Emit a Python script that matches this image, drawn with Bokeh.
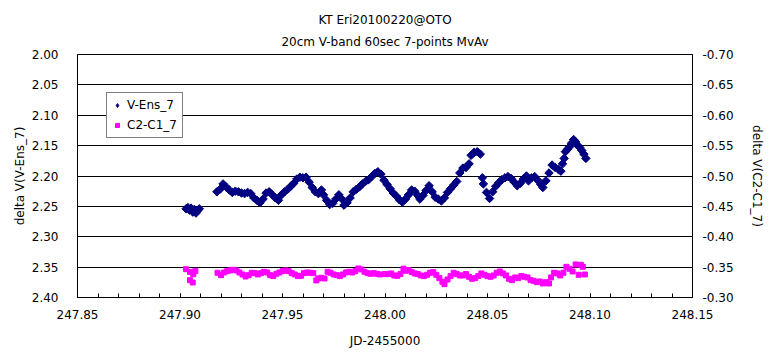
import math
from bokeh.plotting import figure
from bokeh.models import (Range1d, LinearAxis, FixedTicker, NumeralTickFormatter, Title,
                          ColumnDataSource, CDSView, IndexFilter, Legend, LegendItem)
from bokeh.embed import file_html
from bokeh.resources import INLINE

title_line1 = "KT Eri20100220@OTO"
title_line2 = "20cm V-band 60sec 7-points MvAv"
x_label = "JD-2455000"
left_label = "delta V(V-Ens_7)"
right_label = "delta V(C2-C1_7)"
series_names = ["V-Ens_7", "C2-C1_7"]

x_ticks = [247.85, 247.90, 247.95, 248.00, 248.05, 248.10, 248.15]
left_ticks = [2.00, 2.05, 2.10, 2.15, 2.20, 2.25, 2.30, 2.35, 2.40]
right_ticks = [-0.70, -0.65, -0.60, -0.55, -0.50, -0.45, -0.40, -0.35, -0.30]

# V-Ens_7 (left axis)
jd_v = [247.9030, 247.9038, 247.9046, 247.9054, 247.9062, 247.9070, 247.9078, 247.9086, 247.9094,
        247.9180, 247.9195, 247.9210, 247.9225, 247.9240, 247.9255, 247.9270, 247.9285, 247.9300, 247.9315,
        247.9330, 247.9345, 247.9360, 247.9375, 247.9390, 247.9405, 247.9420, 247.9435, 247.9450, 247.9465,
        247.9480, 247.9495, 247.9510, 247.9525, 247.9540, 247.9555, 247.9570, 247.9585, 247.9600, 247.9615,
        247.9630, 247.9645, 247.9660, 247.9675, 247.9690, 247.9700, 247.9715, 247.9730, 247.9745, 247.9760,
        247.9775, 247.9790, 247.9800, 247.9815, 247.9830, 247.9845, 247.9860, 247.9875, 247.9890, 247.9905,
        247.9920, 247.9935, 247.9950, 247.9965, 247.9980, 247.9995, 248.0010, 248.0025, 248.0040, 248.0055,
        248.0070, 248.0085, 248.0100, 248.0115, 248.0130, 248.0145, 248.0160, 248.0170, 248.0185, 248.0200,
        248.0215, 248.0230, 248.0245, 248.0260, 248.0275, 248.0290, 248.0305, 248.0320, 248.0335, 248.0350,
        248.0365, 248.0380, 248.0395, 248.0410, 248.0420, 248.0435, 248.0450, 248.0465, 248.0475, 248.0480,
        248.0495, 248.0510, 248.0525, 248.0540, 248.0555, 248.0570, 248.0585, 248.0600, 248.0615, 248.0630,
        248.0645, 248.0660, 248.0675, 248.0690, 248.0700, 248.0715, 248.0730, 248.0745, 248.0760, 248.0770,
        248.0785, 248.0800, 248.0815, 248.0830, 248.0845, 248.0858, 248.0866, 248.0874, 248.0880, 248.0890,
        248.0900, 248.0910, 248.0920, 248.0930, 248.0940, 248.0950, 248.0960, 248.0970, 248.0980]
dv_v = [2.254, 2.252, 2.256, 2.253, 2.259, 2.255, 2.261, 2.257, 2.254,
        2.226, 2.222, 2.213, 2.218, 2.223, 2.227, 2.225, 2.226, 2.228, 2.229,
        2.227, 2.229, 2.236, 2.240, 2.244, 2.238, 2.228, 2.226, 2.231, 2.236,
        2.240, 2.231, 2.226, 2.222, 2.217, 2.212, 2.205, 2.202, 2.203, 2.202,
        2.210, 2.219, 2.226, 2.229, 2.223, 2.231, 2.240, 2.247, 2.245, 2.238,
        2.231, 2.238, 2.248, 2.244, 2.236, 2.226, 2.222, 2.218, 2.213, 2.209,
        2.206, 2.201, 2.196, 2.193, 2.197, 2.207, 2.214, 2.221, 2.228, 2.233,
        2.239, 2.243, 2.238, 2.231, 2.223, 2.225, 2.232, 2.238, 2.232, 2.224,
        2.216, 2.226, 2.235, 2.238, 2.241, 2.236, 2.227, 2.221, 2.215, 2.209,
        2.195, 2.187, 2.186, 2.180, 2.166, 2.161, 2.160, 2.164, 2.203, 2.213,
        2.227, 2.237, 2.226, 2.217, 2.211, 2.206, 2.203, 2.201, 2.204, 2.210,
        2.216, 2.212, 2.205, 2.200, 2.208, 2.203, 2.201, 2.207, 2.214, 2.219,
        2.208, 2.195, 2.182, 2.186, 2.189, 2.192, 2.180, 2.171, 2.160, 2.156,
        2.152, 2.146, 2.140, 2.144, 2.150, 2.153, 2.158, 2.164, 2.171]

# C2-C1_7 (right axis)
jd_c = [247.9029, 247.9049, 247.9065, 247.9075, 247.9049, 247.9062,
        247.9183, 247.9200, 247.9215, 247.9230, 247.9245, 247.9260, 247.9275, 247.9290, 247.9305, 247.9320,
        247.9335, 247.9350, 247.9365, 247.9380, 247.9395, 247.9410, 247.9425, 247.9440, 247.9455, 247.9470,
        247.9485, 247.9500, 247.9515, 247.9530, 247.9545, 247.9560, 247.9575, 247.9590, 247.9605, 247.9620,
        247.9635, 247.9650, 247.9665, 247.9675, 247.9690, 247.9705, 247.9720, 247.9735, 247.9750, 247.9765,
        247.9780, 247.9795, 247.9810, 247.9825, 247.9840, 247.9855, 247.9870, 247.9885, 247.9900, 247.9915,
        247.9930, 247.9945, 247.9960, 247.9975, 248.0000, 248.0015, 248.0030, 248.0045, 248.0060, 248.0075,
        248.0090, 248.0100, 248.0115, 248.0130, 248.0145, 248.0160, 248.0175, 248.0190, 248.0205, 248.0220,
        248.0235, 248.0250, 248.0265, 248.0280, 248.0290, 248.0305, 248.0320, 248.0335, 248.0350, 248.0365,
        248.0380, 248.0395, 248.0410, 248.0425, 248.0440, 248.0455, 248.0470, 248.0485, 248.0500, 248.0515,
        248.0530, 248.0545, 248.0560, 248.0575, 248.0590, 248.0605, 248.0620, 248.0635, 248.0650, 248.0665,
        248.0680, 248.0695, 248.0710, 248.0725, 248.0740, 248.0755, 248.0770, 248.0785, 248.0800, 248.0810,
        248.0825, 248.0840, 248.0855, 248.0870, 248.0885, 248.0900, 248.0915, 248.0930, 248.0945, 248.0955,
        248.0965, 248.0975]
dv_c = [-0.3466, -0.3421, -0.3383, -0.3438, -0.3285, -0.3247,
        -0.3407, -0.3368, -0.3412, -0.3434, -0.3445, -0.3456, -0.3445, -0.3412, -0.3379, -0.3346,
        -0.3368, -0.3407, -0.3401, -0.3379, -0.3401, -0.3423, -0.3412, -0.3368, -0.3352, -0.3390,
        -0.3412, -0.3434, -0.3445, -0.3434, -0.3401, -0.3379, -0.3352, -0.3357, -0.3401, -0.3412,
        -0.3407, -0.3401, -0.3281, -0.3313, -0.3324, -0.3313, -0.3423, -0.3407, -0.3379, -0.3368,
        -0.3352, -0.3379, -0.3412, -0.3423, -0.3412, -0.3434, -0.3478, -0.3462, -0.3423, -0.3401,
        -0.3390, -0.3401, -0.3390, -0.3379, -0.3385, -0.3385, -0.3396, -0.3363, -0.3357, -0.3385,
        -0.3473, -0.3440, -0.3451, -0.3418, -0.3396, -0.3385, -0.3363, -0.3352, -0.3374, -0.3407,
        -0.3418, -0.3374, -0.3319, -0.3259, -0.3220, -0.3297, -0.3352, -0.3407, -0.3385, -0.3363,
        -0.3363, -0.3385, -0.3341, -0.3308, -0.3319, -0.3352, -0.3396, -0.3374, -0.3352, -0.3341,
        -0.3363, -0.3407, -0.3429, -0.3396, -0.3363, -0.3308, -0.3286, -0.3330, -0.3319, -0.3352,
        -0.3341, -0.3330, -0.3286, -0.3275, -0.3253, -0.3264, -0.3231, -0.3253, -0.3231, -0.3330,
        -0.3407, -0.3396, -0.3363, -0.3407, -0.3505, -0.3473, -0.3429, -0.3544, -0.3374, -0.3538,
        -0.3505, -0.3379]

FONT = "DejaVu Sans"
FS = "12px"

p = figure(width=771, height=359, output_backend="svg", toolbar_location=None,
           x_range=Range1d(247.85, 248.15), y_range=Range1d(2.40, 2.00),
           min_border_left=77, min_border_right=79, min_border_top=54, min_border_bottom=62,
           background_fill_color="white", border_fill_color="white")
p.title = None
p.extra_y_ranges = {"right": Range1d(-0.30, -0.70)}

p.add_layout(Title(text=title_line2, align="center", text_font=FONT, text_font_size=FS,
                   text_font_style="normal", text_color="black", standoff=12), "above")
p.add_layout(Title(text=title_line1, align="center", text_font=FONT, text_font_size=FS,
                   text_font_style="normal", text_color="black", standoff=0), "above")

p.outline_line_color = "black"
p.outline_line_width = 1

minor = [round(247.85 + 0.01 * i, 2) for i in range(31)]
p.xaxis.ticker = FixedTicker(ticks=x_ticks, minor_ticks=minor)
p.xaxis.formatter = NumeralTickFormatter(format="0.00")
p.xaxis.major_tick_in = 4
p.xaxis.major_tick_out = 0
p.xaxis.minor_tick_in = 4
p.xaxis.minor_tick_out = 0
p.xaxis.axis_label = x_label
p.xaxis.major_label_standoff = 12
p.xaxis.axis_label_standoff = 12

p.yaxis.ticker = FixedTicker(ticks=left_ticks)
p.yaxis.formatter = NumeralTickFormatter(format="0.00")
p.yaxis.axis_label = left_label
p.yaxis.major_label_standoff = 19
p.yaxis.axis_label_standoff = 2

right_axis = LinearAxis(y_range_name="right", ticker=FixedTicker(ticks=right_ticks),
                        formatter=NumeralTickFormatter(format="0.00"), axis_label=right_label)
right_axis.major_label_standoff = 10
right_axis.axis_label_standoff = 13
p.add_layout(right_axis, "right")

for ax in [p.xaxis[0], p.yaxis[0], right_axis]:
    ax.axis_line_color = "black"
    ax.major_tick_line_color = "black"
    ax.minor_tick_line_color = "black"
    ax.major_label_text_font = FONT
    ax.major_label_text_font_size = FS
    ax.major_label_text_color = "black"
    ax.axis_label_text_font = FONT
    ax.axis_label_text_font_size = FS
    ax.axis_label_text_font_style = "normal"
    ax.axis_label_text_color = "black"

for ax in [p.yaxis[0], right_axis]:
    ax.major_tick_in = 0
    ax.major_tick_out = 0
    ax.minor_tick_in = 0
    ax.minor_tick_out = 0

p.xgrid.visible = False
p.ygrid.ticker = FixedTicker(ticks=left_ticks)
p.ygrid.grid_line_color = "black"
p.ygrid.grid_line_width = 1

src_v = ColumnDataSource(data=dict(jd=jd_v, dv=dv_v))
src_c = ColumnDataSource(data=dict(jd=jd_c, dv=dv_c))

r_v = p.scatter("jd", "dv", source=src_v, marker="square", angle=math.pi / 4, size=6, color="#000080")
r_c = p.scatter("jd", "dv", source=src_c, marker="square", size=5, color="#FF00FF", y_range_name="right")

# legend symbol for V-Ens_7: a diamond drawn on one existing point (hidden in the cloud)
proxy = p.scatter("jd", "dv", source=src_v, view=CDSView(filter=IndexFilter(indices=[4])),
                  marker="diamond", size=9, color="#000080")

lg = Legend(items=[LegendItem(label=series_names[0], renderers=[proxy], index=4),
                   LegendItem(label=series_names[1], renderers=[r_c])])
lg.location = (29, 159)
lg.border_line_color = "black"
lg.border_line_width = 1
lg.background_fill_color = "white"
lg.background_fill_alpha = 1.0
lg.label_text_font = FONT
lg.label_text_font_size = FS
lg.label_text_color = "black"
lg.glyph_width = 10
lg.glyph_height = 14
lg.label_height = 14
lg.label_standoff = 5
lg.spacing = 6
lg.padding = 5
lg.margin = 0
p.add_layout(lg, "center")

open("out.html", "w").write(file_html(p, INLINE))
